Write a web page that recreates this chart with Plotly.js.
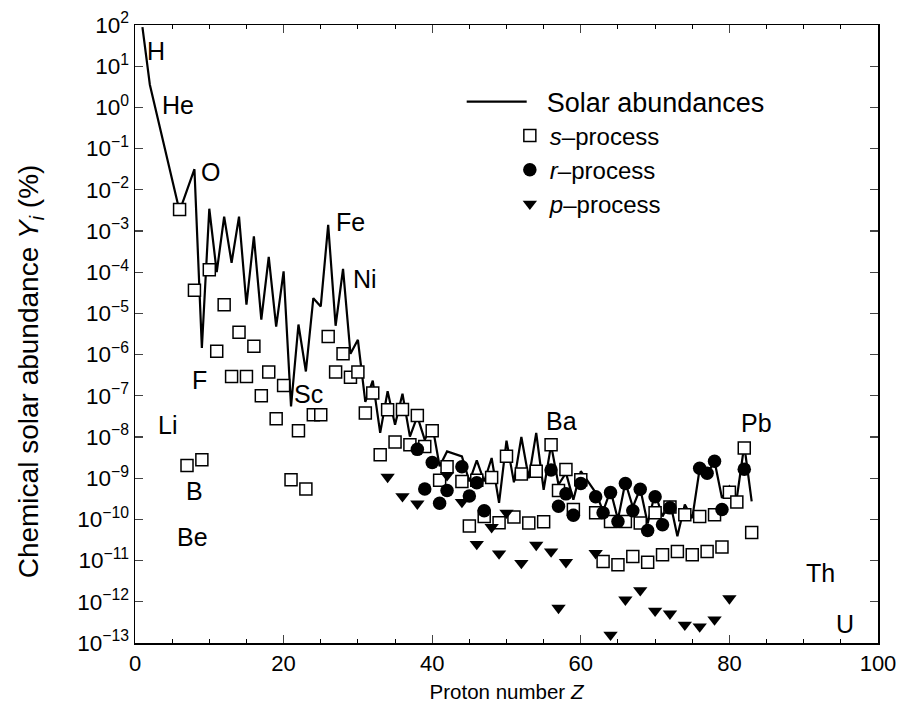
<!DOCTYPE html>
<html>
<head>
<meta charset="utf-8">
<script src="https://cdn.plot.ly/plotly-3.0.1.min.js"></script>
<style>html,body{margin:0;padding:0;background:#fff;}#chart{width:902px;height:712px;}</style>
</head>
<body>
<div id="chart"></div>
<script>
// Solar abundances (line): proton number Z and log10 of abundance Y_i (%)
const solarZ = [1,2,6,7,8,9,10,11,12,13,14,15,16,17,18,19,20,21,22,23,24,25,26,27,28,29,30,
  31,32,33,34,35,36,37,38,39,40,41,42,44,45,46,47,48,49,50,51,52,53,54,55,56,57,58,59,60,
  62,63,64,65,66,67,68,69,70,71,72,73,74,75,76,77,78,79,80,81,82,83];
const solarLog = [1.95,0.55,-2.52,-2.0,-1.5,-5.84,-2.46,-4.0,-2.65,-3.77,-2.65,-4.79,-3.13,-5.15,-3.63,-5.32,-3.98,-7.26,-5.27,-6.41,-4.63,-4.83,-2.85,-5.3,-3.92,-5.98,-5.64,
  -7.15,-6.63,-7.9,-6.89,-7.7,-6.95,-7.99,-7.5,-8.07,-7.7,-8.71,-8.35,-8.47,-9.08,-8.57,-9.08,-8.51,-9.6,-8.09,-9.1,-8.0,-9.0,-7.9,-9.28,-8.19,-9.16,-8.87,-9.52,-8.83,
  -9.35,-9.8,-9.3,-10.0,-9.1,-9.7,-9.25,-10.1,-9.36,-9.93,-9.56,-10.41,-9.64,-9.97,-8.77,-8.89,-8.59,-9.48,-9.2,-9.48,-8.2,-9.56];

// s-process (open squares)
const sZ = [6,7,8,9,10,11,12,13,14,15,16,17,18,19,20,21,22,23,24,25,26,27,28,29,30,
  31,32,33,34,35,36,37,38,39,40,41,42,44,45,46,47,48,49,50,51,52,53,54,55,56,57,58,59,60,
  62,63,64,65,66,67,68,69,70,71,72,73,74,75,76,77,78,79,80,81,82,83];
const sLog = [-2.48,-8.69,-4.44,-8.55,-3.94,-5.92,-4.79,-6.53,-5.46,-6.53,-5.8,-7.0,-6.42,-7.56,-6.75,-9.04,-7.85,-9.26,-7.46,-7.46,-5.56,-6.42,-5.98,-6.55,-6.42,
  -7.42,-6.93,-8.43,-7.34,-8.12,-7.33,-8.19,-7.48,-8.23,-7.85,-9.05,-8.72,-9.08,-10.16,-9.05,-9.93,-8.98,-10.08,-8.47,-9.94,-8.9,-10.09,-8.83,-10.06,-8.19,-9.3,-8.79,-9.76,-9.04,
  -9.84,-11.02,-10.05,-11.1,-10.05,-10.9,-10.09,-11.04,-9.84,-10.86,-9.7,-10.78,-9.89,-10.86,-9.93,-10.78,-9.89,-10.67,-9.34,-9.58,-8.27,-10.32];

// r-process (filled circles)
const rZ = [38,39,40,41,42,44,45,46,47,56,57,58,59,60,62,63,64,65,66,67,68,69,70,71,72,76,77,78,79,82];
const rLog = [-8.3,-9.26,-8.62,-9.61,-9.3,-8.72,-9.43,-9.11,-9.79,-8.8,-9.68,-9.38,-9.9,-9.13,-9.45,-9.84,-9.35,-10.05,-9.13,-9.79,-9.27,-10.27,-9.45,-10.13,-9.72,-8.76,-8.88,-8.59,-9.76,-8.78];

// p-process (filled down triangles)
const pZ = [34,36,38,42,44,46,48,49,50,52,54,56,57,58,62,64,66,68,70,72,74,76,78,80];
const pLog = [-8.97,-9.44,-9.62,-8.93,-9.58,-10.6,-10.19,-10.83,-9.84,-11.06,-10.62,-10.78,-12.15,-11.04,-10.82,-12.8,-11.95,-11.72,-12.22,-12.29,-12.56,-12.6,-12.43,-11.92];

// Y axis decades and their labels
const yTickExp = [2,1,0,-1,-2,-3,-4,-5,-6,-7,-8,-9,-10,-11,-12,-13];
const yTickText = yTickExp.map(e => '10<sup>' + (e < 0 ? '\u2212' + (-e) : e) + '</sup>');

// Element labels
const labelText = ['H','He','O','Fe','Ni','F','Sc','Li','B','Be','Ba','Pb','Th','U'];
const labelZ    = [2.8,5.75,10.2,29.0,30.9,8.7,23.4,4.4,8.0,7.7,57.4,83.6,92.3,95.5];
const labelLog  = [1.37,0.07,-1.56,-2.77,-4.16,-6.61,-6.95,-7.72,-9.3,-10.42,-7.6,-7.65,-11.3,-12.55];

const toVal = a => a.map(v => Math.pow(10, v));
const FONT = 'Liberation Sans, Arial, Helvetica, sans-serif';

const traces = [
  {x: solarZ, y: toVal(solarLog), mode: 'lines', name: '\u00a0\u00a0Solar abundances', legend: 'legend',
   line: {color: '#000', width: 2.2}},
  {x: sZ, y: toVal(sLog), mode: 'markers', name: '<i>s</i>–process', legend: 'legend2',
   marker: {symbol: 'square', size: 12, color: '#fff', line: {color: '#000', width: 1.5}}},
  {x: rZ, y: toVal(rLog), mode: 'markers', name: '<i>r</i>–process', legend: 'legend2',
   marker: {symbol: 'circle', size: 13.5, color: '#000', line: {color: '#000', width: 0}}},
  {x: pZ, y: toVal(pLog), mode: 'markers', name: '<i>p</i>–process', legend: 'legend2',
   marker: {symbol: 'triangle-down', size: 12.5, color: '#000', line: {color: '#000', width: 0}}}
];

const annotations = labelText.map((t, i) => ({
  x: labelZ[i], y: labelLog[i], xref: 'x', yref: 'y', text: t, showarrow: false,
  font: {family: FONT, size: 25, color: '#000'}, xanchor: 'center', yanchor: 'middle'
}));
annotations.push({
  xref: 'paper', yref: 'paper', x: -0.141, y: 0.44, textangle: -90, showarrow: false,
  text: 'Chemical solar abundance <i>Y<sub>i</sub></i> (%)',
  font: {family: FONT, size: 28, color: '#000'}, xanchor: 'center', yanchor: 'middle'
});

const layout = {
  width: 902, height: 712,
  margin: {l: 135, r: 24, t: 25, b: 69},
  paper_bgcolor: '#fff', plot_bgcolor: '#fff',
  font: {family: FONT, size: 22, color: '#000'},
  showlegend: true,
  legend: {x: 0.4397, y: 0.915, xanchor: 'left', yanchor: 'top', bgcolor: 'rgba(0,0,0,0)',
    font: {family: FONT, size: 27, color: '#000'}, itemwidth: 60},
  legend2: {x: 0.5045, y: 0.857, xanchor: 'left', yanchor: 'top', bgcolor: 'rgba(0,0,0,0)',
    font: {family: FONT, size: 24, color: '#000'}, itemwidth: 30},
  xaxis: {
    range: [0, 100], dtick: 20, tick0: 0, ticks: 'inside', ticklen: 8, tickwidth: 1.2,
    showline: true, linecolor: '#000', linewidth: 1.5, mirror: 'allticks', showgrid: false, zeroline: false,
    minor: {dtick: 5, ticks: 'inside', ticklen: 4, tickwidth: 1, tickcolor: '#000', showgrid: false},
    tickfont: {family: FONT, size: 22},
    title: {text: 'Proton number <i>Z</i>', font: {family: FONT, size: 20.5}, standoff: 9}
  },
  yaxis: {
    type: 'log', range: [-13, 2], tickmode: 'array', tickvals: toVal(yTickExp), ticktext: yTickText,
    ticks: 'inside', ticklen: 8, tickwidth: 1.2,
    showline: true, linecolor: '#000', linewidth: 1.5, mirror: 'allticks', showgrid: false, zeroline: false,
    tickfont: {family: FONT, size: 22.5}
  },
  annotations: annotations
};

Plotly.newPlot('chart', traces, layout, {displayModeBar: false, staticPlot: true});
</script>
</body>
</html>
